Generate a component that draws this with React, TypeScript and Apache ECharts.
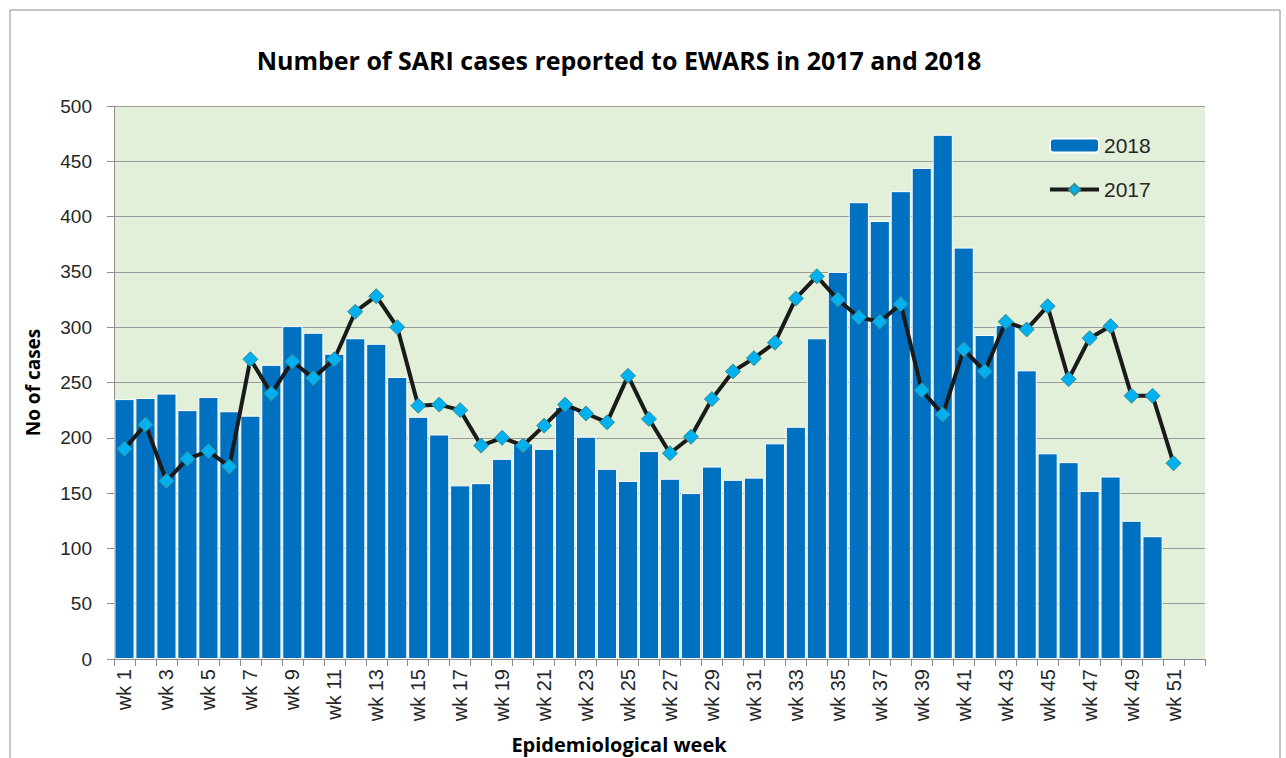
import React, { useEffect, useRef } from "react";
import * as echarts from "echarts";

const weeks: string[] = Array.from({ length: 52 }, (_, i) => `wk ${i + 1}`);

const cases2018: (number | null)[] = [
  235, 236, 240, 225, 237, 224, 220, 266, 301, 295,
  276, 290, 285, 255, 219, 203, 157, 159, 181, 195,
  190, 228, 201, 172, 161, 188, 163, 150, 174, 162,
  164, 195, 210, 290, 350, 413, 396, 423, 444, 474,
  372, 293, 302, 261, 186, 178, 152, 165, 125, 111,
  null, null,
];

const cases2017: (number | null)[] = [
  190, 212, 161, 181, 188, 174, 271, 240, 269, 254,
  271, 314, 328, 300, 229, 230, 225, 193, 200, 193,
  211, 230, 222, 214, 256, 217, 186, 201, 235, 260,
  272, 286, 326, 346, 325, 309, 305, 321, 243, 221,
  280, 260, 305, 298, 319, 253, 290, 301, 238, 238,
  177, null,
];

const TITLE = "Number of SARI cases reported to EWARS in 2017 and 2018";
const X_NAME = "Epidemiological week";
const Y_NAME = "No of cases";

export default function App() {
  const ref = useRef<HTMLDivElement>(null);
  useEffect(() => {
    if (!ref.current) return;
    const chart = echarts.init(ref.current, null, { renderer: "svg" });
    const axisFont = "Liberation Sans";
    const textColor = "#262626";
    chart.setOption({
      animation: false,
      backgroundColor: "#ffffff",
      title: {
        text: TITLE,
        left: 614,
        top: 42,
        textAlign: "center",
        textStyle: {
          fontFamily: "Open Sans",
          fontWeight: "bold",
          fontSize: 25,
          color: "#000",
        },
      },
      graphic: [
        {
          type: "rect",
          shape: { x: 10, y: 10, width: 1270, height: 760 },
          style: { fill: "none", stroke: "#8c8c8c", lineWidth: 1 },
          silent: true,
        },
        {
          type: "text",
          x: 619,
          y: 744,
          style: {
            text: X_NAME,
            fontFamily: "Open Sans",
            fontWeight: "bold",
            fontSize: 20,
            fill: "#000",
            align: "center",
            verticalAlign: "middle",
          },
          silent: true,
        },
      ],
      legend: {
        orient: "vertical",
        left: 1043,
        top: 130,
        itemGap: 23,
        itemWidth: 49,
        itemHeight: 14,
        textStyle: { fontFamily: axisFont, fontSize: 21, color: textColor },
        data: [
          { name: "2018" },
          { name: "2017", lineStyle: { width: 4, color: "#1a1a1a" } },
        ],
      },
      grid: {
        left: 114,
        top: 106,
        right: 81,
        bottom: 99,
        show: true,
        backgroundColor: "#E2EFD9",
        borderWidth: 0,
      },
      xAxis: {
        type: "category",
        data: weeks,
        axisLine: { show: true, lineStyle: { color: "#8c8c8c", width: 1 } },
        axisTick: { show: true, interval: 0, length: 7, lineStyle: { color: "#8c8c8c" } },
        axisLabel: {
          interval: 1,
          rotate: 90,
          fontFamily: axisFont,
          fontSize: 20,
          color: textColor,
          margin: 10,
        },
        splitLine: { show: false },
      },
      yAxis: {
        type: "value",
        min: 0,
        max: 500,
        interval: 50,
        name: Y_NAME,
        nameLocation: "middle",
        nameGap: 72,
        nameRotate: 90,
        nameTextStyle: {
          fontFamily: "Open Sans",
          fontWeight: "bold",
          fontSize: 19,
          color: "#000",
        },
        axisLine: { show: true, lineStyle: { color: "#8c8c8c", width: 1 } },
        axisTick: { show: true, length: 7, lineStyle: { color: "#8c8c8c" } },
        axisLabel: {
          fontFamily: axisFont,
          fontSize: 19,
          color: textColor,
          margin: 22,
        },
        splitLine: { show: true, lineStyle: { color: "#9a9a9a", width: 1 } },
      },
      series: [
        {
          name: "2018",
          type: "bar",
          data: cases2018,
          barCategoryGap: "4%",
          itemStyle: { color: "#0070C0", borderColor: "#ffffff", borderWidth: 1 },
          z: 2,
        },
        {
          name: "2017",
          type: "line",
          data: cases2017,
          symbol: "diamond",
          symbolSize: 15,
          showAllSymbol: true,
          lineStyle: { color: "#1a1a1a", width: 4 },
          itemStyle: { color: "#00B0F0", borderColor: "#3a8f8a", borderWidth: 1 },
          z: 3,
        },
      ],
    });
    return () => chart.dispose();
  }, []);
  return (
    <div
      ref={ref}
      style={{ position: "fixed", left: 0, top: 0, width: 1286, height: 758 }}
    />
  );
}
